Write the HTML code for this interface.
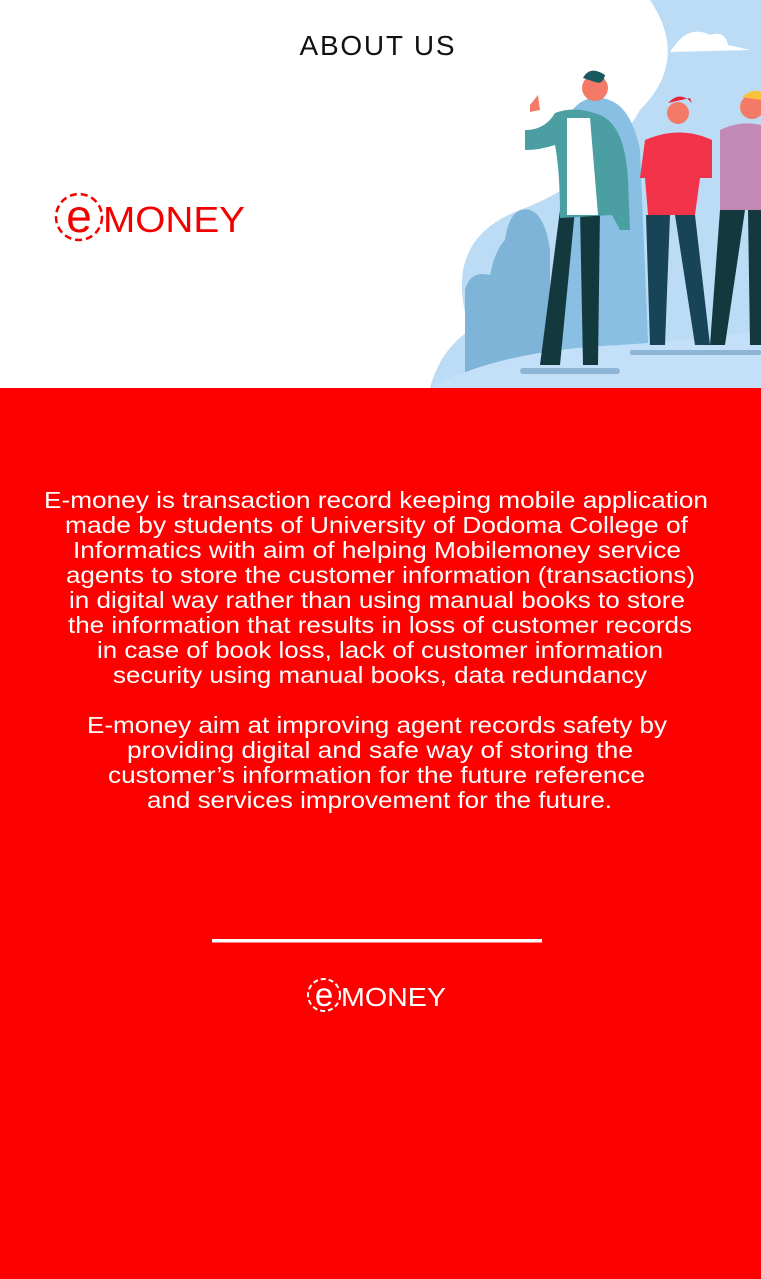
<!DOCTYPE html>
<html><head><meta charset="utf-8"><style>
html,body{margin:0;padding:0;width:761px;height:1279px;overflow:hidden;background:#fd0000;font-family:"Liberation Sans",sans-serif}
#top{position:absolute;left:0;top:0;width:761px;height:388px;background:#fff}
svg{position:absolute;left:0;top:0}
</style></head><body>
<div id="top"></div>
<svg width="761" height="1279" viewBox="0 0 761 1279">
  <text x="377" y="55" text-anchor="middle" font-size="28" fill="#111" textLength="155">ABOUT US</text>
  <g>
    <circle cx="79" cy="217" r="23" fill="none" stroke="#f20000" stroke-width="2.5" stroke-dasharray="7 4"/>
    <text x="79" y="232" text-anchor="middle" font-size="46" fill="#f20000">e</text>
    <text x="103" y="232" font-size="36" fill="#f20000" textLength="142" lengthAdjust="spacingAndGlyphs">MONEY</text>
  </g>
  <g>
    <path d="M650 0 H761 V388 H430 Q440 350 470 330 Q440 240 520 210 Q600 180 640 110 Q690 60 650 0 Z" fill="#bcdcf6"/>
    <path d="M675 45 Q690 25 710 35 Q725 30 728 45 L750 50 L670 52 Z" fill="#fff"/>
    <path d="M465 388 V290 Q470 270 490 275 Q495 250 505 240 Q510 205 530 210 Q545 215 550 250 L550 388 Z" fill="#7eb4d8"/>
    <path d="M560 388 V140 Q570 95 600 98 Q630 100 640 150 L650 388 Z" fill="#89bfe3"/>
    <path d="M430 388 Q500 350 620 345 Q700 340 761 330 V388 Z" fill="#c4e0f8"/>
    <rect x="520" y="368" width="100" height="6" rx="3" fill="#8fb5d6"/>
    <rect x="630" y="350" width="131" height="5" rx="2" fill="#8fb5d6"/>
    <!-- man 1 -->
    <path d="M560 210 L575 210 L560 365 L540 365 Z M580 210 L600 210 L598 365 L583 365 Z" fill="#13393f"/>
    <path d="M555 113 Q575 105 600 115 Q625 125 628 180 L630 230 L620 230 L612 215 L560 218 Q560 170 555 145 Q540 150 525 150 L525 130 Q545 130 555 113 Z" fill="#4b9fa3"/>
    <path d="M567 118 L590 118 L598 215 L567 215 Z" fill="#fff"/>
    <circle cx="595" cy="88" r="13" fill="#f47a68"/>
    <path d="M583 78 Q590 65 605 75 Q603 85 595 82 Z" fill="#17595e"/>
    <path d="M530 105 L538 95 L540 110 L530 112 Z" fill="#f47a68"/>
    <!-- man 2 -->
    <path d="M646 215 H670 L665 345 H650 Z M675 215 H695 L710 345 H695 Z" fill="#174457"/>
    <path d="M645 140 Q680 125 712 140 L712 178 L700 178 L695 215 L648 215 L645 178 L640 178 Z" fill="#f2334a"/>
    <circle cx="678" cy="113" r="11" fill="#f47a68"/>
    <path d="M668 103 Q680 90 692 103 L690 98 Z" fill="#e5243d"/>
    <!-- man 3 -->
    <path d="M720 210 H745 L725 345 H710 Z M748 210 H761 V345 H750 Z" fill="#13393f"/>
    <path d="M720 130 Q740 120 761 125 V210 H720 Z" fill="#c289b7"/>
    <circle cx="752" cy="107" r="12" fill="#f47a68"/>
    <path d="M742 97 Q752 88 761 92 V100 Z" fill="#f8c33a"/>
  </g>
  <g fill="#fff" font-size="23" text-anchor="start" lengthAdjust="spacingAndGlyphs">
    <text x="44" y="508" textLength="664" lengthAdjust="spacingAndGlyphs">E-money is transaction record keeping mobile application</text>
    <text x="65" y="533" textLength="623" lengthAdjust="spacingAndGlyphs">made by students of University of Dodoma College of</text>
    <text x="73" y="558" textLength="608" lengthAdjust="spacingAndGlyphs">Informatics with aim of helping Mobilemoney service</text>
    <text x="66" y="583" textLength="629" lengthAdjust="spacingAndGlyphs">agents to store the customer information (transactions)</text>
    <text x="69" y="608" textLength="616" lengthAdjust="spacingAndGlyphs">in digital way rather than using manual books to store</text>
    <text x="68" y="633" textLength="624" lengthAdjust="spacingAndGlyphs">the information that results in loss of customer records</text>
    <text x="97" y="658" textLength="566" lengthAdjust="spacingAndGlyphs">in case of book loss, lack of customer information</text>
    <text x="113" y="683" textLength="534" lengthAdjust="spacingAndGlyphs">security using manual books, data redundancy</text>
    <text x="87" y="733" textLength="580" lengthAdjust="spacingAndGlyphs">E-money aim at improving agent records safety by</text>
    <text x="127" y="758" textLength="506" lengthAdjust="spacingAndGlyphs">providing digital and safe way of storing the</text>
    <text x="108" y="783" textLength="537" lengthAdjust="spacingAndGlyphs">customer’s information for the future reference</text>
    <text x="147" y="808" textLength="465" lengthAdjust="spacingAndGlyphs">and services improvement for the future.</text>
  </g>
  <rect x="212" y="939" width="330" height="3.5" fill="#fff"/>
  <g>
    <circle cx="324" cy="995" r="16" fill="none" stroke="#fff" stroke-width="2" stroke-dasharray="5 3"/>
    <text x="324" y="1006" text-anchor="middle" font-size="33" fill="#fff">e</text>
    <text x="341" y="1006" font-size="26" fill="#fff" textLength="105" lengthAdjust="spacingAndGlyphs">MONEY</text>
  </g>
</svg>
</body></html>
